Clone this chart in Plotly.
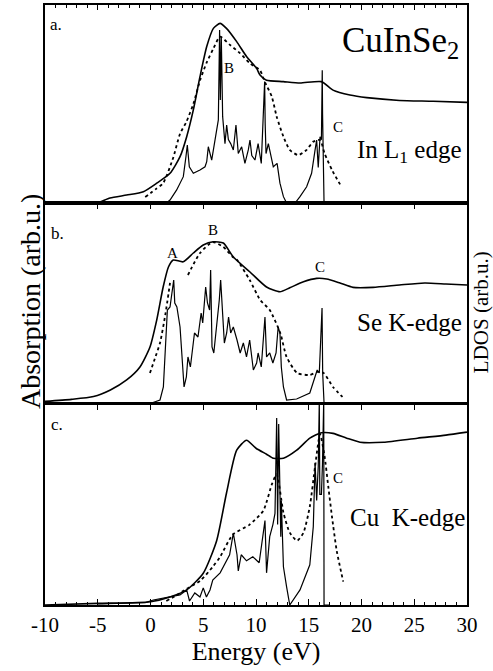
import plotly.graph_objects as go

# ---------------- data (energy in eV, intensity in arbitrary units 0-100 per panel) -------------
# Panel a: In L1 edge
a_abs_x = [-5.3, -4.8, -3.84, -2.26, -0.68, 0.59, 1.85, 2.8, 3.43, 4.06, 4.69, 5.33, 5.96, 6.59,
           7.2, 8.17, 9.1, 10.06, 10.38, 11.0, 12.6, 14.17, 16.2, 17.3, 18.9, 20.5, 23.6, 26.8, 30.0]
a_abs_y = [0, 0.5, 2.5, 4, 5.7, 10, 15, 23.4, 33.5, 47, 63.8, 79, 88.2, 90.7,
           88.2, 81.5, 74, 68, 64.6, 62, 61.3, 60.6, 61.3, 57, 54.5, 53.2, 51.8, 51.4, 50.8]

a_dot_x = [-0.5, 0.5, 1.2, 2.16, 2.8, 3.4, 4.06, 4.7, 5.33, 5.96, 6.59, 7.5, 8.5, 9.43, 10.38,
           10.85, 11.5, 11.96, 12.6, 13.2, 14.0, 14.8, 15.43, 16.07, 16.5, 17.2, 18.1]
a_dot_y = [3, 7, 10, 23, 35, 41, 50, 62, 71, 78, 84, 80, 75.6, 70.5, 67,
           61, 53.7, 43.6, 33.5, 26.8, 24.2, 26.8, 31, 31.8, 25, 16.7, 8.2]

a_dos_x = [1.5, 1.85, 2.48, 3.11, 3.36, 3.49, 3.68, 4.06, 4.69, 5.17, 5.33, 5.48, 5.8, 5.96, 6.27,
           6.43, 6.55, 6.62, 6.71, 6.84, 7.06, 7.22, 7.38, 7.6, 7.85, 8.1, 8.32, 8.64, 8.95, 9.27,
           9.43, 9.6, 9.9, 10.2, 10.5, 10.82, 10.87, 10.95, 11.17, 11.4, 11.64, 12.0, 12.27, 12.6,
           12.9, 13.7, 14.17, 14.8, 15.27, 15.6, 15.75, 15.9, 16.07, 16.2, 16.28, 16.31, 16.36,
           16.45, 17.0]
a_dos_y = [0, 1.5, 6.6, 13.3, 23.4, 29.3, 18.3, 15, 16.7, 18.3, 20.9, 28.4, 21.7, 26.8, 38.5,
           42, 87.4, 52, 84, 43.6, 30, 39.4, 32, 30, 26.8, 39.4, 25, 28.4, 20, 26.8,
           31.8, 24, 21.7, 30, 20, 61.3, 40, 25, 30, 25, 18.3, 20, 10, 3.2,
           0, 0, 3.2, 8.2, 15, 26.8, 31.8, 18, 33.5, 32, 67, 45, 30,
           0, 0]

# Panel b: Se K-edge
b_abs_x = [-10.0, -7.5, -5.4, -3.8, -2.26, -1.0, -0.05, 0.59, 1.2, 1.7, 2.16, 3.1, 4.06, 5.0,
           5.95, 6.9, 7.85, 9.43, 11.0, 12.27, 13.2, 14.5, 15.75, 16.7, 17.96, 19.2, 21.1, 23.6,
           26.0, 28.0, 30.0]
b_abs_y = [0.8, 1.8, 3.2, 6.5, 11.5, 18, 28, 41.5, 58, 68, 71.5, 70.6, 75, 79,
           80.6, 80, 73, 65.5, 58, 55.6, 57.6, 60.6, 62.3, 62, 60, 57.8, 57.8, 59,
           60, 59.5, 59]

b_dot_x = [-0.05, 0.4, 0.9, 1.4, 1.85, None, 3.55, 4.7, 5.9, 6.9, 7.8, 8.2, 9.4, 10.4, 11.3,
           12.3, 12.9, 13.9, 15.1, 15.8, 16.4, 17.3, 18.2]
b_dot_y = [15, 22, 30, 44, 60, None, 64, 75, 80.5, 78, 73, 71.5, 61.5, 51.5, 46.5,
           35, 23, 15, 14, 15.5, 15, 8, 3]

b_dos_x = [0.1, 0.9, 1.22, 1.47, 1.6, 1.85, 2.1, 2.2, 2.3, 2.5, 2.8, 2.96, 3.18, 3.4, 3.55,
           3.78, 4.0, 4.17, 4.5, 4.8, 4.95, 5.23, 5.4, 5.6, 5.7, 5.83, 6.0, 6.27, 6.52, 6.65,
           6.8, 7.0, 7.22, 7.4, 7.6, 7.85, 8.2, 8.5, 8.8, 9.1, 9.4, 9.75, 10.06, 10.2, 10.5,
           10.85, 11.0, 11.3, 11.6, 11.9, 12.1, 12.27, 12.4, 12.6, 12.9, 13.85, 15.1, 15.6, 15.8,
           16.0, 16.1, 16.26, 16.32, 16.45, 17.0]
b_dos_y = [0, 1.5, 8, 38, 46.5, 48, 58, 61.5, 50, 48, 38, 23, 8, 13, 23,
           18, 26.5, 35, 33, 45, 40, 58, 50, 46.5, 66.5, 28, 25, 38, 51.5, 61.5,
           45, 30, 35, 43, 35, 38, 31.5, 25, 30, 23, 31.5, 16.5, 20, 25, 18,
           43, 23, 25, 20, 25, 38, 35, 18, 8, 1.5, 2, 5, 13, 16.5,
           15, 25, 47.5, 15, 0, 0]

# Panel c: Cu K-edge
c_abs_x = [-10.0, -5.0, 0.0, 1.85, 3.43, 5.0, 6.27, 7.2, 8.17, 9.1, 10.0, 11.0, 11.64, 12.6,
           13.86, 15.1, 16.2, 17.3, 18.6, 19.86, 22.1, 25.3, 28.0, 30.0]
c_abs_y = [0, 0.8, 1.6, 4, 7.5, 15.8, 32, 55.6, 77, 82, 78, 75, 73, 73,
           77, 83, 85.7, 85.4, 83, 81, 81, 83, 84.5, 86]

c_dot_x = [1.5, 2.5, 3.4, 4.7, 5.9, 6.6, 7.8, 9.4, 10.7, 11.5, 11.96, 12.6, 13.2, 13.9, 14.5,
           15.1, 15.6, 16.07, 16.5, 16.85, 17.2, 17.65, 18.27]
c_dot_y = [2, 5, 8, 12, 19, 24, 35, 40, 47, 60, 65, 46, 36, 32, 36,
           49, 69, 85, 74, 59, 44, 27, 11.6]

c_dos_x = [-5.0, -0.5, 0.27, 1.85, 2.8, 3.43, 3.7, 4.2, 4.69, 5.0, 5.3, 5.64, 5.9, 6.6, 7.2,
           7.5, 7.85, 8.0, 8.2, 8.32, 8.6, 9.1, 9.7, 10.3, 10.85, 11.0, 11.3, 11.6, 11.8, 11.96,
           12.05, 12.15, 12.25, 12.35, 12.4, 12.5, 12.6, 12.9, 13.2, 14.17, 15.1, 15.43, 15.6,
           15.75, 15.9, 16.0, 16.05, 16.2, 16.3, 16.42, 16.45, 17.0]
c_dos_y = [0.5, 1.2, 2.5, 4, 5, 7.5, 2, 6, 4, 8.5, 4, 7.5, 12.4, 16, 22.4,
           25, 35.8, 30, 25, 17, 25, 22, 24, 21, 42, 16, 34, 40, 45.6, 93,
           40, 90, 60, 34, 52, 29, 19, 9, 0, 7.5, 20, 39, 70.6,
           52, 69, 102, 55, 55, 70, 102, 0, 0]

x_ticks = [-10, -5, 0, 5, 10, 15, 20, 25, 30]
x_range = [-10, 30]

# ---------------- figure -------------------------------------------------------------------------
FONT = "Liberation Serif, Times New Roman, Times, serif"
fig = go.Figure()

panels = [
    ("x", "y", a_abs_x, a_abs_y, a_dot_x, a_dot_y, a_dos_x, a_dos_y),
    ("x2", "y2", b_abs_x, b_abs_y, b_dot_x, b_dot_y, b_dos_x, b_dos_y),
    ("x3", "y3", c_abs_x, c_abs_y, c_dot_x, c_dot_y, c_dos_x, c_dos_y),
]
for xa, ya, ax_, ay_, dx_, dy_, lx_, ly_ in panels:
    fig.add_trace(go.Scatter(x=ax_, y=ay_, xaxis=xa, yaxis=ya, mode="lines",
                             line=dict(color="black", width=1.6, shape="spline", smoothing=0.6),
                             showlegend=False))
    fig.add_trace(go.Scatter(x=dx_, y=dy_, xaxis=xa, yaxis=ya, mode="lines",
                             line=dict(color="black", width=1.8, dash="dot", shape="spline",
                                       smoothing=0.6),
                             connectgaps=False, showlegend=False))
    fig.add_trace(go.Scatter(x=lx_, y=ly_, xaxis=xa, yaxis=ya, mode="lines",
                             line=dict(color="black", width=1.2), showlegend=False))

# invisible trace for the top tick row of panel c
fig.add_trace(go.Scatter(x=[None], y=[None], xaxis="x4", yaxis="y3", mode="lines",
                         showlegend=False))

axis_line = dict(showline=True, linecolor="black", linewidth=1.5, mirror=True,
                 showgrid=False, zeroline=False)

fig.update_layout(
    width=493, height=671,
    margin=dict(l=45, r=26, t=5, b=66),
    paper_bgcolor="white", plot_bgcolor="white",
    font=dict(family=FONT, color="black"),
    xaxis=dict(range=x_range, anchor="y", side="top", ticks="inside", ticklen=5,
               tickvals=x_ticks, showticklabels=False, tickcolor="black", tickwidth=1.2,
               minor=dict(ticks="inside", ticklen=3, dtick=1, tick0=0, tickcolor="black"),
               **axis_line),
    xaxis2=dict(range=x_range, anchor="y2", side="top", ticks="inside", ticklen=6,
                tickvals=x_ticks, showticklabels=False, tickcolor="black", tickwidth=1.2,
                **axis_line),
    xaxis3=dict(range=x_range, anchor="y3", side="bottom", ticks="inside", ticklen=6,
                tickvals=x_ticks, ticktext=[str(v) for v in x_ticks], tickcolor="black",
                tickwidth=1.2, tickfont=dict(size=21, family=FONT, color="black"),
                minor=dict(ticks="inside", ticklen=3, dtick=1, tick0=0, tickcolor="black"),
                title=dict(text="Energy (eV)", font=dict(size=26, family=FONT, color="black"),
                           standoff=0),
                **axis_line),
    xaxis4=dict(range=x_range, anchor="y3", overlaying="x3", side="top", ticks="inside",
                ticklen=6, tickvals=x_ticks, showticklabels=False, tickcolor="black",
                tickwidth=1.2, showline=False, showgrid=False, zeroline=False),
    yaxis=dict(domain=[0.67, 1.0], range=[0, 100], showticklabels=False, ticks="", **axis_line),
    yaxis2=dict(domain=[0.3367, 0.67], range=[0, 100], showticklabels=False, ticks="", **axis_line),
    yaxis3=dict(domain=[0.0, 0.335], range=[0, 100], showticklabels=False, ticks="", **axis_line),
)

def note(text, x, y, xa, ya, size, xanchor="center"):
    fig.add_annotation(text=text, x=x, y=y, xref=xa, yref=ya, showarrow=False,
                       xanchor=xanchor, yanchor="middle",
                       font=dict(size=size, family=FONT, color="black"))

# panel a
note("a.", -9.7, 90.4, "x", "y", 17, "left")
note("CuInSe<sub>2</sub>", 29.4, 81, "x", "y", 35, "right")
note("B", 7.44, 68.2, "x", "y", 15)
note("C", 17.8, 38.4, "x", "y", 15)
note("In L<sub>1</sub> edge", 29.7, 25.8, "x", "y", 25, "right")
# panel b
note("b.", -9.6, 84.5, "x2", "y2", 17, "left")
note("A", 2.04, 75, "x2", "y2", 15)
note("B", 5.92, 86.5, "x2", "y2", 15)
note("C", 16.07, 68, "x2", "y2", 15)
note("Se K-edge", 29.7, 40, "x2", "y2", 25, "right")
# panel c
note("c.", -9.6, 90, "x3", "y3", 17, "left")
note("C", 17.8, 63.2, "x3", "y3", 15)
note("Cu  K-edge", 30.0, 43.3, "x3", "y3", 25, "right")

# axis-side labels
fig.add_annotation(text="Absorption (arb.u.)", xref="paper", yref="paper", x=0, y=0.505,
                   xanchor="center", yanchor="middle", xshift=-15, textangle=-90,
                   showarrow=False, font=dict(size=28, family=FONT, color="black"))
fig.add_annotation(text="LDOS (arb.u.)", xref="paper", yref="paper", x=1, y=0.488,
                   xanchor="center", yanchor="middle", xshift=14, textangle=-90,
                   showarrow=False, font=dict(size=21, family=FONT, color="black"))

fig.write_html("out.html")
